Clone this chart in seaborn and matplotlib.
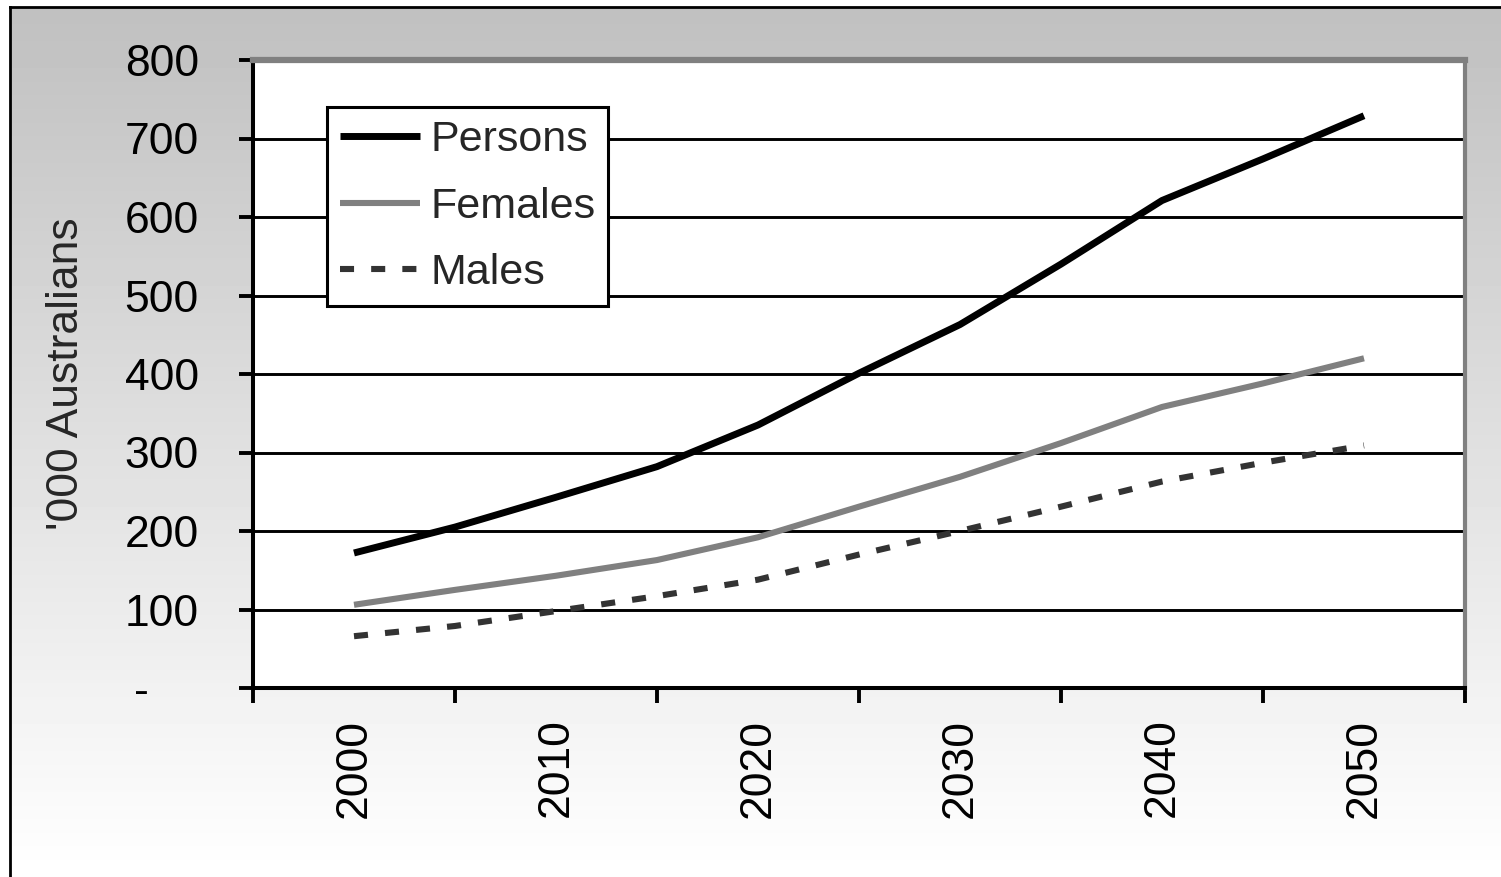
import numpy as np
import pandas as pd
import matplotlib
matplotlib.use("Agg")
import matplotlib.pyplot as plt
import seaborn as sns
from matplotlib.lines import Line2D

# ---- data (thousands of Australians) ----
years = [2000, 2005, 2010, 2015, 2020, 2025, 2030, 2035, 2040, 2045, 2050]
persons = [172, 205, 243, 282, 335, 401, 463, 540, 621, 674, 729]
females = [106, 125, 143, 163, 192, 231, 269, 312, 358, 388, 420]
males = [66, 79, 98, 117, 138, 170, 200, 231, 263, 287, 309]
series_names = ["Persons", "Females", "Males"]
tick_years = [2000, 2010, 2020, 2030, 2040, 2050]
y_ticks = [0, 100, 200, 300, 400, 500, 600, 700, 800]
y_tick_labels = ["-    ", "100", "200", "300", "400", "500", "600", "700", "800"]
y_label = "'000 Australians"

sns.set_style("white")
plt.rcParams["font.family"] = ["Liberation Sans", "DejaVu Sans"]

W, H = 1501, 877
fig = plt.figure(figsize=(W / 100, H / 100), dpi=100)
fig.patch.set_facecolor("white")

# ---- gradient chart-area background with outer border ----
bg = fig.add_axes([10 / W, 0, 1 - 10 / W, 1 - 7 / H], zorder=-10)
grad = np.linspace(0.753, 1.0, 256).reshape(-1, 1)
bg.imshow(grad, cmap="gray", vmin=0, vmax=1, aspect="auto",
          extent=[0, 1, 0, 1], origin="upper")
bg.set_xlim(0, 1)
bg.set_ylim(0, 1)
bg.set_xticks([])
bg.set_yticks([])
for s in ["right", "bottom"]:
    bg.spines[s].set_visible(False)
for s in ["left", "top"]:
    bg.spines[s].set_color("black")
    bg.spines[s].set_linewidth(2.0)

# ---- plot area ----
ax = fig.add_axes([253 / W, (H - 688) / H, 1212 / W, 628 / H])
ax.set_facecolor("white")

df = pd.DataFrame({
    "year": years * 3,
    "value": persons + females + males,
    "series": [series_names[0]] * len(years) + [series_names[1]] * len(years)
              + [series_names[2]] * len(years),
})

styles = {
    "Persons": dict(color="black", linewidth=5.0, linestyle="-"),
    "Females": dict(color="#808080", linewidth=4.4, linestyle="-"),
    "Males": dict(color="#333333", linewidth=4.4, linestyle=(0, (2.3, 2.8))),
}
for name in series_names:
    st = styles[name]
    sns.lineplot(data=df[df["series"] == name], x="year", y="value", ax=ax,
                 color=st["color"], linewidth=st["linewidth"],
                 linestyle=st["linestyle"], solid_capstyle="butt",
                 dash_capstyle="butt", legend=False, zorder=3)

ax.set_xlim(1995, 2055)
ax.set_ylim(0, 800)

# horizontal gridlines
ax.set_axisbelow(True)
ax.yaxis.grid(True, color="black", linewidth=2.1)
ax.xaxis.grid(False)

# y axis
ax.set_yticks(y_ticks)
ax.set_yticklabels(y_tick_labels, fontsize=32)
ax.tick_params(axis="y", which="major", direction="out", length=10,
               width=2.8, color="black", pad=29, labelcolor="black",
               left=True)

# x axis: tick marks between categories, labels centred on categories
ax.set_xticks([1995, 2005, 2015, 2025, 2035, 2045, 2055])
ax.set_xticklabels([])
ax.tick_params(axis="x", which="major", direction="out", length=11,
               width=2.8, color="black", bottom=True)
ax.set_xticks(tick_years, minor=True)
ax.set_xticklabels([str(y) for y in tick_years], minor=True, rotation=90,
                   fontsize=32)
ax.tick_params(axis="x", which="minor", length=0, pad=22, labelcolor="black",
               bottom=True)

ax.set_xlabel("")
ax.set_ylabel(y_label, fontsize=32)
ax.yaxis.set_label_coords(-0.137, 0.5)

# spines
for s in ["left", "bottom"]:
    ax.spines[s].set_color("black")
    ax.spines[s].set_linewidth(2.9)
ax.spines["top"].set_color("#808080")
ax.spines["top"].set_linewidth(4.5)
ax.spines["right"].set_color("#808080")
ax.spines["right"].set_linewidth(3.0)

# legend
handles = [Line2D([0], [0], **{k: v for k, v in styles[n].items()},
                  solid_capstyle="butt", dash_capstyle="butt")
           for n in series_names]
leg = ax.legend(handles, series_names, loc="upper left",
                bbox_to_anchor=(0.061, 0.925), borderaxespad=0,
                frameon=True, fancybox=False, edgecolor="black",
                facecolor="white", framealpha=1, fontsize=31,
                handlelength=1.85, handletextpad=0.25, labelspacing=0.62,
                borderpad=0.3)
leg.get_frame().set_linewidth(2.2)
leg.set_zorder(5)

fig.savefig("out.png", dpi=100)
